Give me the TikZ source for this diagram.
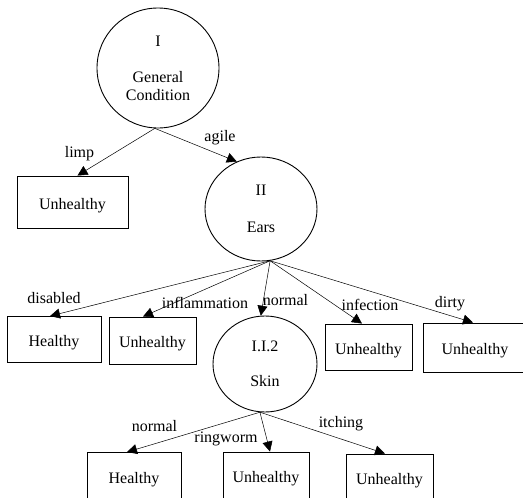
\documentclass[tikz,border=0pt]{standalone}
\usepackage{fontspec}
\setmainfont{Liberation Serif}
\usetikzlibrary{shapes.geometric,arrows.meta}
\begin{document}
\begin{tikzpicture}[x=1pt,y=-1pt,
  every node/.style={font=\fontsize{16}{18}\selectfont},
  testnode/.style={draw,line width=0.9pt,ellipse,inner sep=0pt,align=center},
  leaf/.style={draw,line width=0.9pt,rectangle,inner sep=0pt,text height=14.6pt,text depth=0pt},
  edge/.style={line width=0.5pt,-{Triangle[length=10pt,width=10pt]}},
  lab/.style={anchor=base,inner sep=0pt}]
\clip (0,0) rectangle (523,498);
% test nodes
\node[testnode,minimum width=122pt,minimum height=120pt] (gc) at (158,68) {I\\[18pt]General\\Condition};
\node[testnode,minimum width=112pt,minimum height=104pt] (ears) at (261,209) {II\\[18.7pt]Ears};
\node[testnode,minimum width=104pt,minimum height=96pt] (skin) at (265,364) {I.I.2\\[17pt]Skin};
% leaves
\node[leaf,minimum width=111pt,minimum height=52pt] (u1) at (72.5,202) {Unhealthy};
\node[leaf,minimum width=94pt,minimum height=46pt] (h2) at (54,339.5) {Healthy};
\node[leaf,minimum width=87pt,minimum height=47pt] (u2) at (152.5,340.5) {Unhealthy};
\node[leaf,minimum width=87pt,minimum height=46pt] (u3) at (368.5,347) {Unhealthy};
\node[leaf,minimum width=104pt,minimum height=49pt] (u4) at (475,347.5) {Unhealthy};
\node[leaf,minimum width=94pt,minimum height=47pt] (h5) at (134,476) {Healthy};
\node[leaf,minimum width=86pt,minimum height=47pt] (u6) at (266,475.5) {Unhealthy};
\node[leaf,minimum width=87pt,minimum height=47pt] (u7) at (389.5,477.5) {Unhealthy};
% edges
\draw[edge] (gc.-93) -- ([xshift=5pt]u1.north);
\draw[edge] (gc.-93) -- (ears.117);
\draw[edge] (ears.-80) -- ([xshift=-4pt]h2.north);
\draw[edge] (ears.-80) -- ([xshift=-9.5pt]u2.north);
\draw[edge] (ears.-80) -- (skin.95);
\draw[edge] (ears.-80) -- ([xshift=-6.5pt]u3.north);
\draw[edge] (ears.-80) -- ([xshift=-2pt]u4.north);
\draw[edge] (skin.-96) -- ([xshift=-7pt]h5.north);
\draw[edge] (skin.-96) -- ([xshift=4pt]u6.north);
\draw[edge] (skin.-96) -- ([xshift=-4.5pt]u7.north);
% labels
\node[lab] (llimp) at (79.5,157) {limp};
\node[lab] (lagile) at (220,141.7) {agile};
\node[lab] (ldis) at (54,303.3) {disabled};
\node[lab] (linf) at (205,308.3) {inflammation};
\node[lab] (lnorm) at (285.5,305) {normal};
\node[lab] (linfe) at (370,310) {infection};
\node[lab] (ldirty) at (450,307) {dirty};
\node[lab] (lnorm2) at (154.5,431) {normal};
\node[lab] (lring) at (226,442.7) {ringworm};
\node[lab] (litch) at (341,427.7) {itching};
\end{tikzpicture}
\end{document}
